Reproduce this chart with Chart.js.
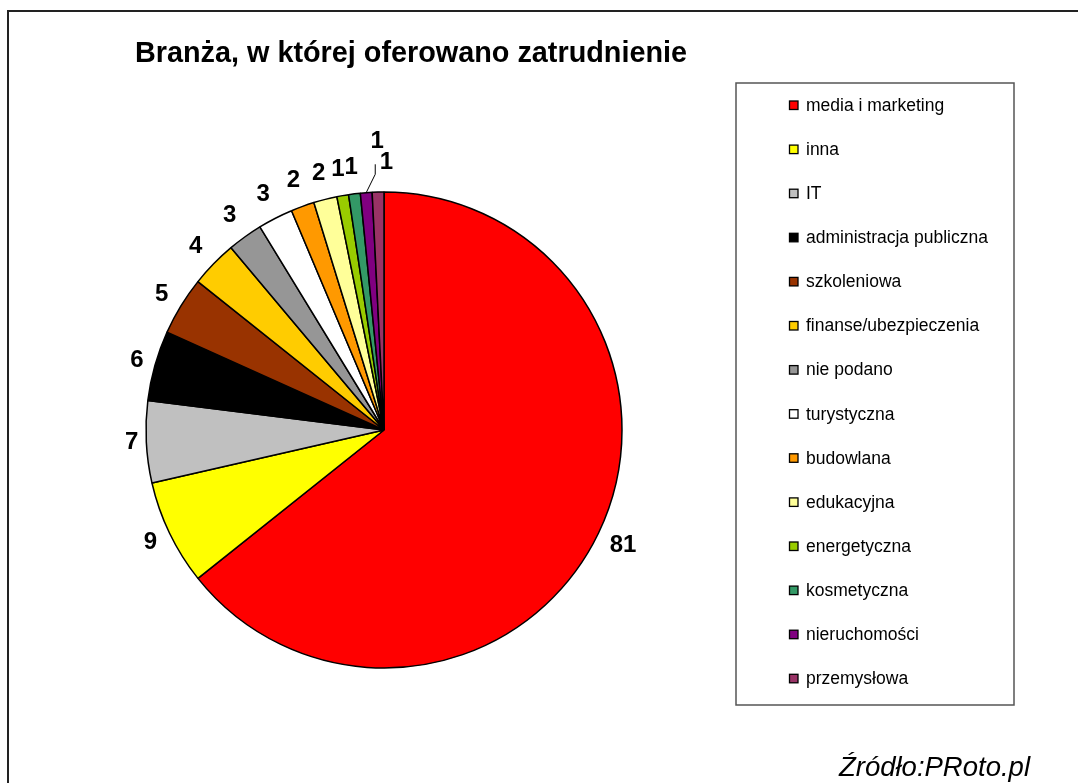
<!DOCTYPE html>
<html>
<head>
<meta charset="utf-8">
<script src="https://cdn.jsdelivr.net/npm/chart.js@4.4.0/dist/chart.umd.min.js"></script>
<style>
  html, body { margin: 0; padding: 0; background: #fff; overflow: hidden; }
  canvas { display: block; }
</style>
</head>
<body>
<canvas id="branzaChart" width="1078" height="783"></canvas>
<script>
// data
const categories = [
  'media i marketing', 'inna', 'IT', 'administracja publiczna', 'szkoleniowa',
  'finanse/ubezpieczenia', 'nie podano', 'turystyczna', 'budowlana', 'edukacyjna',
  'energetyczna', 'kosmetyczna', 'nieruchomości', 'przemysłowa'
];
const counts = [81, 9, 7, 6, 5, 4, 3, 3, 2, 2, 1, 1, 1, 1];
const sliceColors = [
  '#ff0000', '#ffff00', '#c0c0c0', '#000000', '#993300',
  '#ffcc00', '#969696', '#ffffff', '#ff9900', '#ffff99',
  '#99cc00', '#339966', '#800080', '#993366'
];
const chartTitle = 'Branża, w której oferowano zatrudnienie';
const sourceNote = 'Źródło:PRoto.pl';

const FONT = '"Liberation Sans", Arial, sans-serif';

// crowded labels near the top get nudged, one gets a leader line
const labelShift = { 12: { dx: 13, dy: -25, leader: true }, 13: { dx: 9, dy: -4 } };

const decorations = {
  id: 'decorations',
  afterDraw(chart) {
    const ctx = chart.ctx;
    ctx.save();

    // outer frame (runs off the right and bottom edges)
    ctx.strokeStyle = '#222';
    ctx.lineWidth = 2;
    ctx.strokeRect(8, 11, 1200, 900);

    // title
    ctx.fillStyle = '#000';
    ctx.font = 'bold 28.8px ' + FONT;
    ctx.textAlign = 'left';
    ctx.textBaseline = 'middle';
    ctx.fillText(chartTitle, 135, 54);

    // source note
    ctx.font = 'italic 27.5px ' + FONT;
    ctx.textAlign = 'right';
    ctx.fillText(sourceNote, 1030, 768);

    // legend box
    ctx.strokeStyle = '#555';
    ctx.lineWidth = 1.5;
    ctx.strokeRect(736, 83, 278, 622);
    ctx.font = '17.5px ' + FONT;
    ctx.textAlign = 'left';
    categories.forEach((name, i) => {
      const y = 105 + i * 44.1;
      ctx.fillStyle = sliceColors[i];
      ctx.fillRect(789.5, y - 4, 8.5, 8.5);
      ctx.strokeStyle = '#000';
      ctx.lineWidth = 1.3;
      ctx.strokeRect(789.5, y - 4, 8.5, 8.5);
      ctx.fillStyle = '#000';
      ctx.fillText(name, 806, y + 1);
    });

    // value labels around the pie
    const meta = chart.getDatasetMeta(0);
    ctx.font = 'bold 24px ' + FONT;
    ctx.textAlign = 'center';
    meta.data.forEach((arc, i) => {
      const p = arc.getProps(['x', 'y', 'startAngle', 'endAngle', 'outerRadius'], true);
      const mid = (p.startAngle + p.endAngle) / 2;
      const dx = Math.cos(mid), dy = Math.sin(mid);
      const text = String(counts[i]);
      const w = ctx.measureText(text).width;
      const dist = p.outerRadius + 7 + Math.abs(dx) * w / 2 + Math.abs(dy) * 19;
      let lx = p.x + dx * dist, ly = p.y + dy * dist;
      const s = labelShift[i];
      if (s) {
        lx += s.dx; ly += s.dy;
        if (s.leader) {
          ctx.strokeStyle = '#000';
          ctx.lineWidth = 1;
          ctx.beginPath();
          ctx.moveTo(lx - 2, ly + 23);
          ctx.lineTo(lx - 2, ly + 33);
          ctx.lineTo(p.x + dx * p.outerRadius, p.y + dy * p.outerRadius);
          ctx.stroke();
        }
      }
      ctx.fillStyle = '#000';
      ctx.fillText(text, lx, ly);
    });

    ctx.restore();
  }
};

const ctx = document.getElementById('branzaChart').getContext('2d');
const branzaChart = new Chart(ctx, {
  type: 'pie',
  data: {
    labels: categories,
    datasets: [{
      data: counts,
      backgroundColor: sliceColors,
      borderColor: '#000',
      borderWidth: 1.5
    }]
  },
  options: {
    responsive: false,
    animation: false,
    layout: {
      padding: { left: 145.25, right: 455.25, top: 191.25, bottom: 114.25 }
    },
    plugins: {
      legend: { display: false },
      title: { display: false },
      tooltip: { enabled: false }
    }
  },
  plugins: [decorations]
});
</script>
</body>
</html>
